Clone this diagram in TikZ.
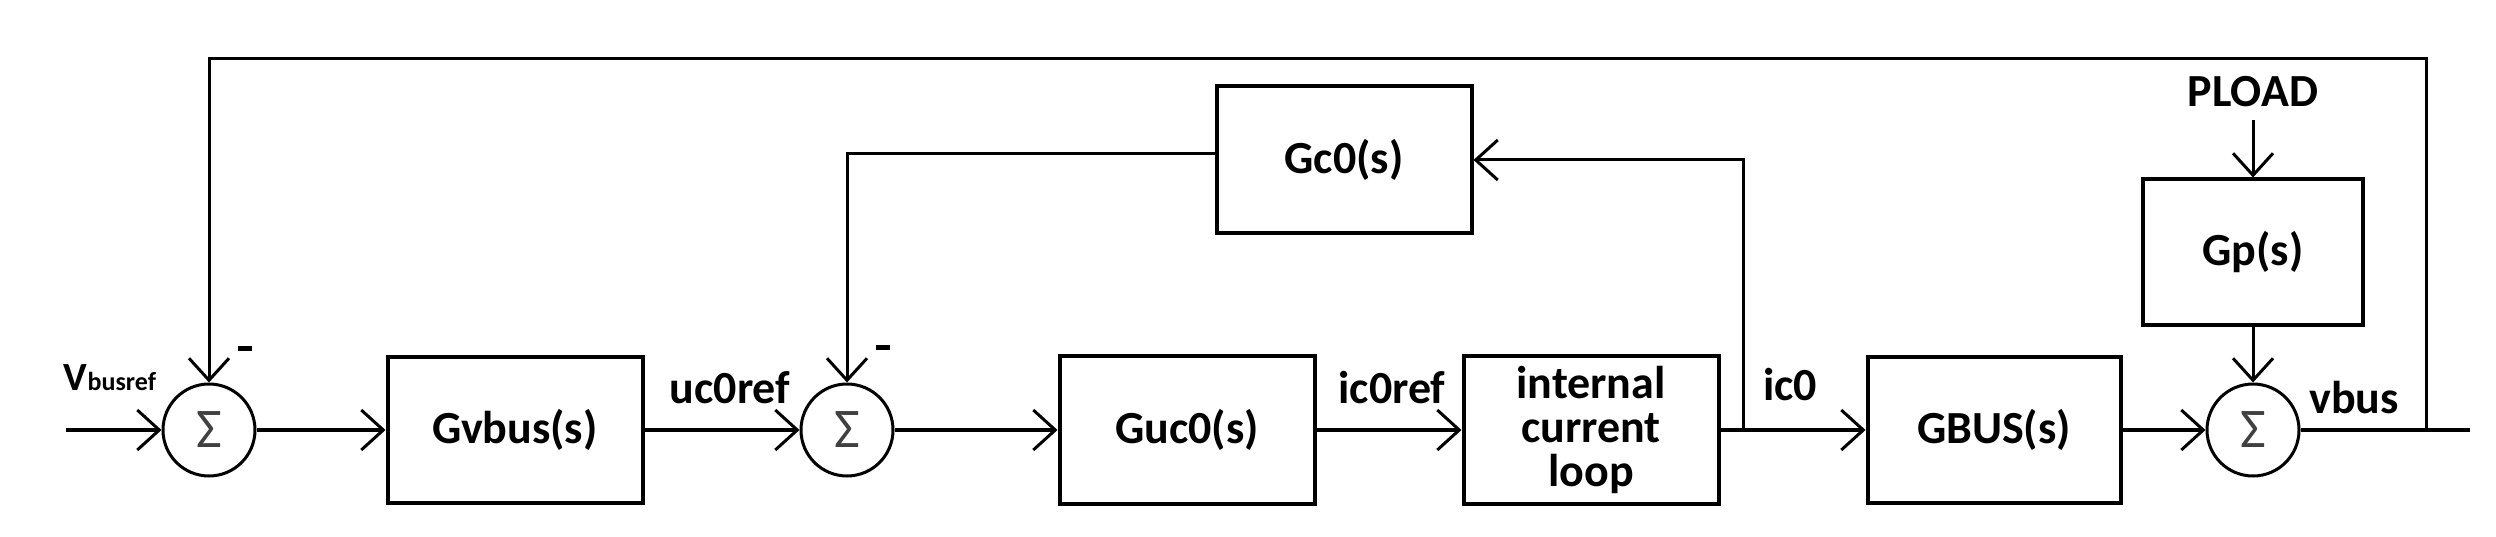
\documentclass[tikz,border=0pt]{standalone}
\usepackage{fontspec}
\setmainfont{Carlito}
\usetikzlibrary{arrows.meta}
\begin{document}
\begin{tikzpicture}[x=1pt,y=-1pt,
  blk/.style={draw,line width=4pt,inner sep=0pt},
  sum/.style={draw,line width=3pt,circle,minimum size=92pt,inner sep=0pt,font=\fontsize{56}{56}\selectfont,text=black!75},
  sig/.style={line width=4.5pt,-{Straight Barb[length=22pt,width=40pt,line width=3pt]}},
  fb/.style={line width=3pt},
  lab/.style={font=\bfseries\fontsize{46}{46}\selectfont,inner sep=0pt}]
\useasboundingbox (0,0) rectangle (2496,537);
\node[sum] (s1) at (209,430) {Σ};
\node[sum] (s2) at (847,430) {Σ};
\node[sum] (s3) at (2253,430) {Σ};
\node[blk,minimum width=255pt,minimum height=146pt,lab] (gv) at (515,430) {Gvbus(s)};
\node[blk,minimum width=255pt,minimum height=148pt,lab] (guc) at (1187,430) {Guc0(s)};
\node[blk,minimum width=255pt,minimum height=148pt,lab,align=center,font=\bfseries\fontsize{46}{44}\selectfont] (icl) at (1591,430) {internal\\current\\loop};
\node[blk,minimum width=253pt,minimum height=146pt,lab] (gbus) at (1994,430) {GBUS(s)};
\node[blk,minimum width=255pt,minimum height=147pt,lab] (gc) at (1344,160) {Gc0(s)};
\node[blk,minimum width=220pt,minimum height=145pt,lab] (gp) at (2253,252) {Gp(s)};
\node[lab] (pl) at (2253,92) {PLOAD};
\coordinate (in) at (66,430);
\coordinate (br) at (1743,430);
\coordinate (tr) at (2426,430);
\coordinate (out) at (2470,430);
\coordinate (top1) at (209,59);
\coordinate (top2) at (2426,59);
\draw[sig] (in) -- (s1.west);
\draw[sig] (s1.east) -- (gv.west);
\draw[sig] (gv.east) -- (s2.west);
\draw[sig] (s2.east) -- (guc.west);
\draw[sig] (guc.east) -- (icl.west);
\draw[sig] (icl.east) -- (gbus.west);
\draw[sig] (gbus.east) -- (s3.west);
\draw[line width=4.5pt] (s3.east) -- (out);
\draw[fb,-{Straight Barb[length=22pt,width=40pt,line width=3pt]}] (tr) -- (top2) -- (top1) -- (s1.north);
\draw[fb,-{Straight Barb[length=22pt,width=40pt,line width=3pt]}] (gc.west |- 0,154) -| (s2.north);
\draw[fb,-{Straight Barb[length=22pt,width=40pt,line width=3pt]}] (br) -- (br |- 0,160) -- (gc.east |- 0,160);
\draw[fb,-{Straight Barb[length=22pt,width=40pt,line width=3pt]}] (pl.south |- 0,120) -- (gp.north);
\draw[fb,-{Straight Barb[length=22pt,width=40pt,line width=3pt]}] (gp.south -| s3.north) -- (s3.north);
\node[lab,font=\fontsize{40}{40}\selectfont\bfseries] (vr) at (110,378) {V\fontsize{26}{26}\selectfont busref};
\node[fill=black,minimum width=14pt,minimum height=5pt,inner sep=0pt] (m1) at (245,348) {};
\node[fill=black,minimum width=14pt,minimum height=5pt,inner sep=0pt] (m2) at (883,347) {};
\node[lab] (l1) at (730,388) {uc0ref};
\node[lab] (l2) at (1392,388) {ic0ref};
\node[lab] (l3) at (1790,385) {ic0};
\node[lab] (l4) at (2354,398) {vbus};
\end{tikzpicture}
\end{document}
